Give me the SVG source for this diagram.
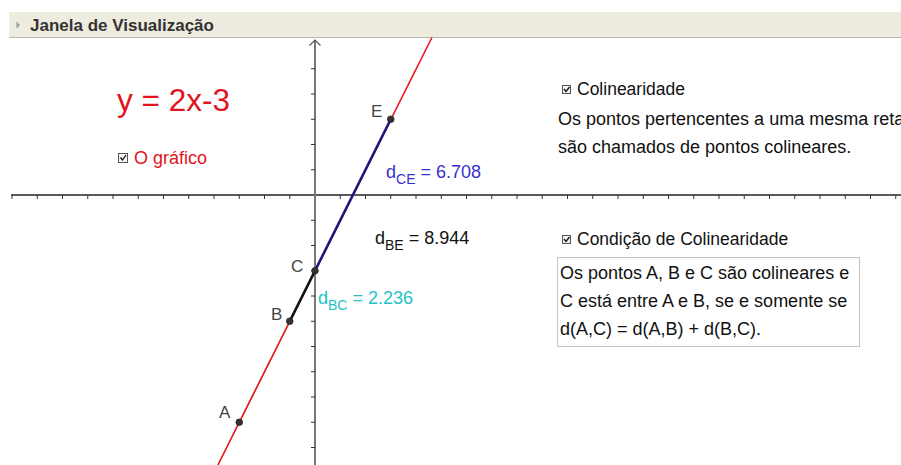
<svg xmlns="http://www.w3.org/2000/svg" width="901" height="465" viewBox="0 0 901 465">
<defs>
<style>
text{font-family:"Liberation Sans",Arial,sans-serif;}
.lbl{font-size:17px;fill:#444;}
.txt{font-size:18px;fill:#111;}
.chk{font-size:17.5px;fill:#111;}
.dist{font-size:18px;}
.sub{font-size:14px;}
.pt{fill:#333;stroke:#222;stroke-width:0.8;}
.tick{stroke:#333;stroke-width:1;fill:none;}
.cb{fill:#f4f4f4;stroke:#555;stroke-width:1;}
.cm{fill:none;stroke:#111;stroke-width:1.3;}
</style>
</defs>
<rect x="0" y="0" width="901" height="465" fill="#ffffff"/>

<g id="header">
<rect x="9" y="12" width="892" height="25" fill="#eeebdf"/>
<line x1="9" y1="37.5" x2="901" y2="37.5" stroke="#b9b7ad" stroke-width="1"/>
<path d="M16.5,21.5 L20,25 L16.5,28.5 Z" fill="#9a9a9a"/>
<text x="30" y="31" style="font-size:17px;font-weight:bold;fill:#333">Janela de Visualização</text>
</g>

<g id="axes">
<line x1="11" y1="195" x2="901" y2="195" stroke="#222" stroke-width="1.3"/>
<line x1="315" y1="40" x2="315" y2="465" stroke="#777" stroke-width="2"/>
<path d="M309.5,45.5 L315,40 L320.5,45.5" fill="none" stroke="#555" stroke-width="1.2"/>
<path class="tick" d="M12,195v4M37.25,195v4M62.5,195v4M87.75,195v4M113,195v4M138.25,195v4M163.5,195v4M188.75,195v4M214,195v4M239.25,195v4M264.5,195v4M289.75,195v4M340.25,195v4M365.5,195v4M390.75,195v4M416,195v4M441.25,195v4M466.5,195v4M491.75,195v4M517,195v4M542.25,195v4M567.5,195v4M592.75,195v4M618,195v4M643.25,195v4M668.5,195v4M693.75,195v4M719,195v4M744.25,195v4M769.5,195v4M794.75,195v4M820,195v4M845.25,195v4M870.5,195v4M895.75,195v4"/>
<path class="tick" d="M311,68.75h4M311,94h4M311,119.25h4M311,144.5h4M311,169.75h4M311,220.25h4M311,245.5h4M311,270.75h4M311,296h4M311,321.25h4M311,346.5h4M311,371.75h4M311,397h4M311,422.25h4M311,447.5h4"/>
</g>

<g id="connectors">
<line id="line-f" x1="217.9" y1="465" x2="431.9" y2="37.5" stroke="#e3141c" stroke-width="1.6"/>
<line id="seg-CE" x1="315" y1="270.75" x2="390.75" y2="119.25" stroke="#1c1a7e" stroke-width="2.6"/>
<line id="seg-BC" x1="289.75" y1="321.25" x2="315" y2="270.75" stroke="#111" stroke-width="2.6"/>
</g>

<g id="point-A"><circle class="pt" cx="239.25" cy="422.25" r="3.3"/><text class="lbl" x="219" y="418">A</text></g>
<g id="point-B"><circle class="pt" cx="289.75" cy="321.25" r="3.3"/><text class="lbl" x="271" y="320">B</text></g>
<g id="point-C"><circle class="pt" cx="315" cy="270.75" r="3.3"/><text class="lbl" x="291" y="272">C</text></g>
<g id="point-E"><circle class="pt" cx="390.75" cy="119.25" r="3.3"/><text class="lbl" x="371" y="117">E</text></g>

<g id="equation"><text x="117" y="111" style="font-size:31.5px;fill:#e0141c">y = 2x-3</text></g>

<g id="cb-grafico">
<rect class="cb" x="118.5" y="153.5" width="9" height="9"/>
<path class="cm" d="M120.5,157.5 L122.5,160 L126,155"/>
<text x="134" y="164" style="font-size:18px;fill:#e0141c">O gráfico</text>
</g>

<g id="label-dCE"><text class="dist" x="386" y="178" fill="#3a30cc">d<tspan class="sub" dy="6">CE</tspan><tspan dy="-6"> = 6.708</tspan></text></g>
<g id="label-dBE"><text class="dist" x="375" y="244" fill="#111">d<tspan class="sub" dy="6">BE</tspan><tspan dy="-6"> = 8.944</tspan></text></g>
<g id="label-dBC"><text class="dist" x="318" y="304" fill="#22c3c6">d<tspan class="sub" dy="6">BC</tspan><tspan dy="-6"> = 2.236</tspan></text></g>

<g id="cb-colinearidade">
<rect class="cb" x="562.5" y="85.5" width="8" height="8"/>
<path class="cm" d="M564,89 L566,91.5 L569.5,87"/>
<text class="chk" x="577" y="95">Colinearidade</text>
<text class="txt" x="558" y="125">Os pontos pertencentes a uma mesma reta</text>
<text class="txt" x="558" y="153">são chamados de pontos colineares.</text>
</g>

<g id="cb-condicao">
<rect class="cb" x="562.5" y="235.5" width="8" height="8"/>
<path class="cm" d="M564,239 L566,241.5 L569.5,237"/>
<text class="chk" x="577" y="245">Condição de Colinearidade</text>
</g>

<g id="box-condicao">
<rect x="557.5" y="257.5" width="302" height="89" fill="#fff" stroke="#c4c4c4" stroke-width="1"/>
<text class="txt" x="560" y="279">Os pontos A, B e C são colineares e</text>
<text class="txt" x="560" y="307">C está entre A e B, se e somente se</text>
<text class="txt" x="560" y="335">d(A,C) = d(A,B) + d(B,C).</text>
</g>
</svg>
